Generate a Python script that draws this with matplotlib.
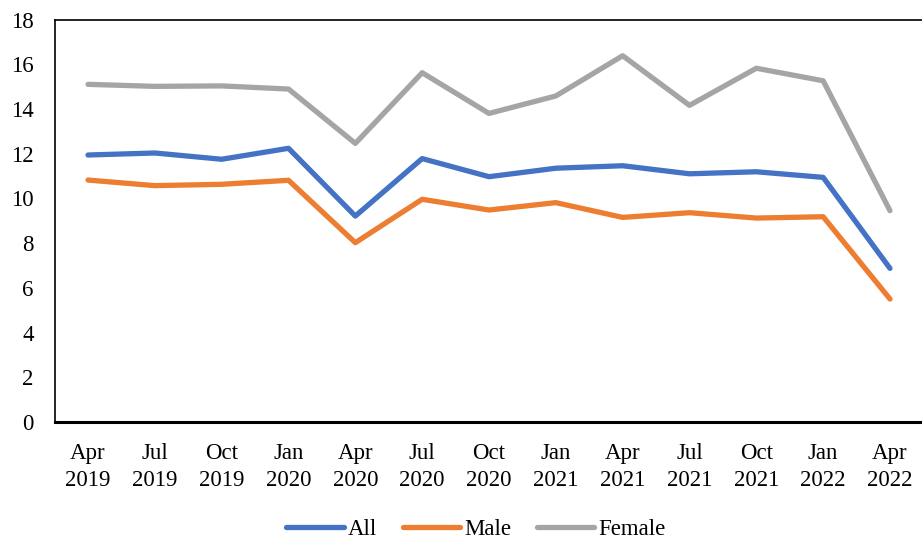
import numpy as np
import matplotlib.pyplot as plt

plt.rcParams['font.family'] = ['Liberation Serif', 'DejaVu Serif']

# DATA
quarters = ["Apr\n2019", "Jul\n2019", "Oct\n2019", "Jan\n2020", "Apr\n2020", "Jul\n2020",
            "Oct\n2020", "Jan\n2021", "Apr\n2021", "Jul\n2021", "Oct\n2021", "Jan\n2022",
            "Apr\n2022"]
all_vals = [11.94, 12.03, 11.75, 12.24, 9.21, 11.78, 10.97, 11.35, 11.46, 11.10, 11.19, 10.94, 6.87]
male_vals = [10.82, 10.57, 10.63, 10.81, 8.02, 9.96, 9.48, 9.81, 9.15, 9.36, 9.12, 9.18, 5.50]
female_vals = [15.10, 15.01, 15.03, 14.89, 12.46, 15.62, 13.80, 14.58, 16.38, 14.16, 15.82, 15.26, 9.45]

fig = plt.figure(figsize=(9.22, 5.42), dpi=100)
W, H = 922, 542
ax = fig.add_axes([54.6 / W, 1 - 422 / H, (923.4 - 54.6) / W, (422 - 19.5) / H])

x = np.arange(len(quarters))
ax.plot(x, all_vals, color='#4472C4', lw=3.8, label='All', solid_capstyle='round')
ax.plot(x, male_vals, color='#ED7D31', lw=3.8, label='Male', solid_capstyle='round')
ax.plot(x, female_vals, color='#A5A5A5', lw=3.8, label='Female', solid_capstyle='round')

ax.set_xlim(-0.5, len(quarters) - 0.5)
ax.set_ylim(0, 18)
ax.set_yticks(range(0, 19, 2))
ax.set_xticks(x)
ax.set_xticklabels(quarters, fontsize=16.5, linespacing=1.4)
ax.tick_params(axis='y', labelsize=16.5, length=0, pad=15)
ax.tick_params(axis='x', length=0, pad=15)

for s in ['left', 'top']:
    ax.spines[s].set_linewidth(1.2)
ax.spines['bottom'].set_linewidth(2.2)
ax.spines['right'].set_visible(False)

fig.legend(loc='center', bbox_to_anchor=(476 / W, 1 - 529 / H), ncol=3, frameon=False,
           fontsize=16.5, handlelength=2.5, columnspacing=1.1, handletextpad=0.2)

fig.savefig('out.png', dpi=100)
